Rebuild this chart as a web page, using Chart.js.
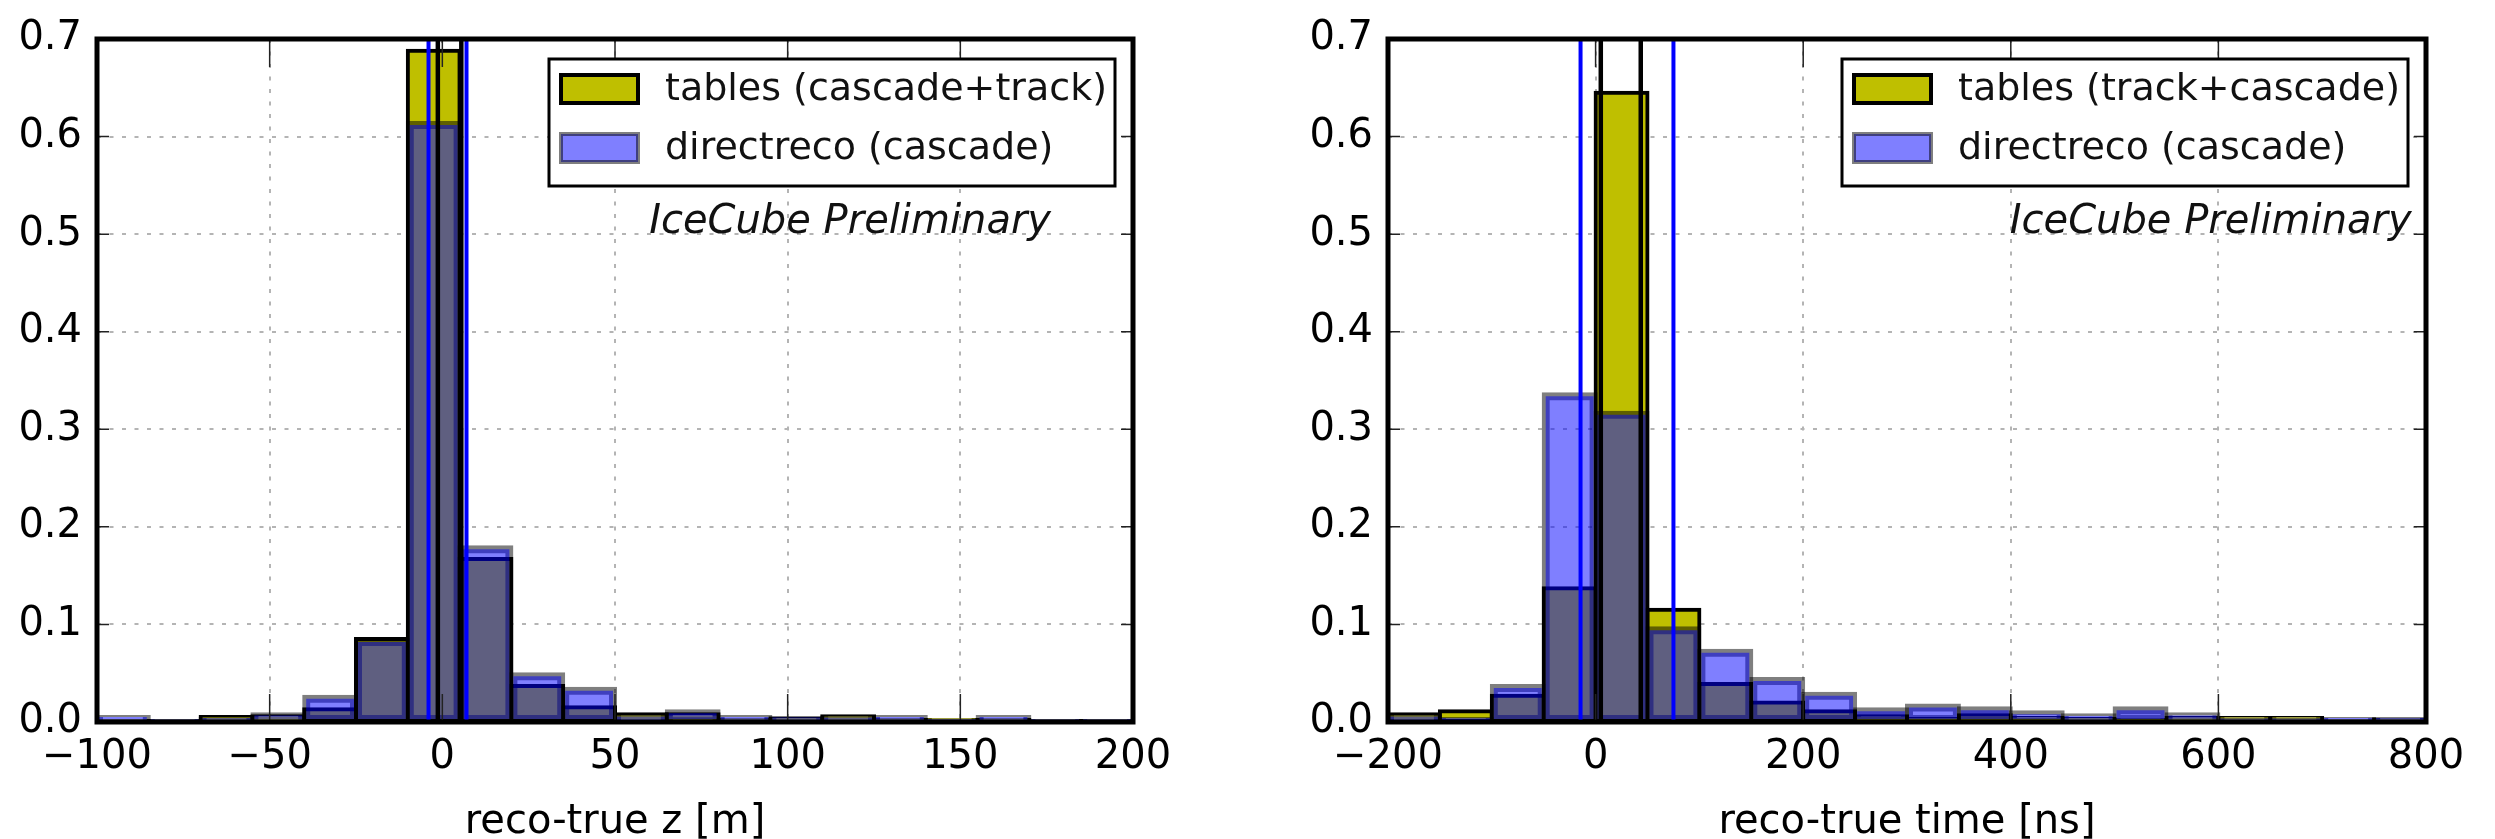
<!DOCTYPE html>
<html>
<head>
<meta charset="utf-8">
<script src="https://cdn.jsdelivr.net/npm/chart.js@4.4.1/dist/chart.umd.min.js"></script>
<style>
  html, body { margin: 0; padding: 0; background: #fff; }
  #wrap { position: relative; width: 2495px; height: 839px; overflow: hidden; }
  canvas { position: absolute; top: 0; }
</style>
</head>
<body>
<div id="wrap">
  <canvas id="zChart" width="1250" height="839" style="left:0px"></canvas>
  <canvas id="tChart" width="1245" height="839" style="left:1250px"></canvas>
</div>
<script>
// ---- reco-true z [m]: 20 bins of 15 m between -100 and 200 ----
const zBinEdges = [-100, -85, -70, -55, -40, -25, -10, 5, 20, 35, 50, 65, 80, 95, 110, 125, 140, 155, 170, 185, 200];
const zTables   = [0.001, 0.001, 0.005, 0.006, 0.013, 0.085, 0.688, 0.167, 0.037, 0.015, 0.008, 0.008, 0.002, 0.003, 0.006, 0.002, 0.002, 0.002, 0.001, 0.001];
const zDirect   = [0.005, 0.001, 0.003, 0.008, 0.026, 0.084, 0.614, 0.179, 0.049, 0.034, 0.006, 0.011, 0.005, 0.004, 0.004, 0.005, 0.001, 0.005, 0.001, 0.001];
const zTablesLines = [-1.3, 5.5];   // tables interval markers
const zDirectLines = [-4.0, 7.0];   // directreco interval markers
const zTicks = [-100, -50, 0, 50, 100, 150, 200];

// ---- reco-true time [ns]: 20 bins of 50 ns between -200 and 800 ----
const tBinEdges = [-200, -150, -100, -50, 0, 50, 100, 150, 200, 250, 300, 350, 400, 450, 500, 550, 600, 650, 700, 750, 800];
const tTables   = [0.008, 0.011, 0.027, 0.137, 0.645, 0.115, 0.039, 0.020, 0.011, 0.006, 0.003, 0.007, 0.004, 0.003, 0.002, 0.004, 0.004, 0.004, 0.001, 0.002];
const tDirect   = [0.006, 0.003, 0.037, 0.336, 0.317, 0.096, 0.073, 0.044, 0.029, 0.013, 0.017, 0.014, 0.010, 0.007, 0.014, 0.008, 0.002, 0.002, 0.003, 0.003];
const tTablesLines = [5.0, 43.5];
const tDirectLines = [-14.5, 75.0];
const tTicks = [-200, 0, 200, 400, 600, 800];

const yTicks = [0.0, 0.1, 0.2, 0.3, 0.4, 0.5, 0.6, 0.7];

const LABEL_DIRECT = 'directreco (cascade)';
const FONT = "'DejaVu Sans', 'Bitstream Vera Sans', sans-serif";

const YELLOW = 'rgb(191,191,0)';
const BLUE_A = 'rgba(0,0,255,0.5)';
const EDGE_A = 'rgba(0,0,0,0.5)';

function toPoints(edges, values) {
  return values.map((v, i) => ({ x: (edges[i] + edges[i + 1]) / 2, y: v }));
}

// Frame, inward ticks, marker lines, legend box and caption
const decorations = {
  id: 'decor',
  afterDatasetsDraw(chart, args, o) {
    const { ctx, chartArea: a, scales: { x, y } } = chart;
    const w = a.right - a.left, h = a.bottom - a.top;

    // marker lines
    ctx.save();
    ctx.beginPath(); ctx.rect(a.left, a.top, w, h); ctx.clip();
    o.lines.forEach(set => {
      ctx.strokeStyle = set.color; ctx.lineWidth = set.width;
      set.values.forEach(v => {
        const px = x.getPixelForValue(v);
        ctx.beginPath(); ctx.moveTo(px, a.top); ctx.lineTo(px, a.bottom); ctx.stroke();
      });
    });
    ctx.restore();

    // inward tick marks on all four sides
    ctx.save();
    ctx.strokeStyle = '#222'; ctx.lineWidth = 1.5;
    x.ticks.forEach(t => {
      const px = x.getPixelForValue(t.value);
      ctx.beginPath();
      ctx.moveTo(px, a.bottom); ctx.lineTo(px, a.bottom - 28);
      ctx.moveTo(px, a.top); ctx.lineTo(px, a.top + 28);
      ctx.stroke();
    });
    y.ticks.forEach(t => {
      const py = y.getPixelForValue(t.value);
      ctx.beginPath();
      ctx.moveTo(a.left, py); ctx.lineTo(a.left + 12, py);
      ctx.moveTo(a.right, py); ctx.lineTo(a.right - 12, py);
      ctx.stroke();
    });
    ctx.restore();

    // axes frame
    ctx.save();
    ctx.strokeStyle = '#000'; ctx.lineWidth = 5;
    ctx.strokeRect(a.left, a.top, w, h);
    ctx.restore();

    // legend box
    const bw = 566, bh = 127;
    const bx = a.right - 18 - bw, by = a.top + 20;
    ctx.save();
    ctx.fillStyle = '#fff'; ctx.fillRect(bx, by, bw, bh);
    ctx.strokeStyle = '#000'; ctx.lineWidth = 3; ctx.strokeRect(bx, by, bw, bh);
    const ds = chart.data.datasets;
    const rows = [ds[1], ds[0]];
    rows.forEach((d, i) => {
      const cy = by + 30 + i * 59;
      ctx.fillStyle = '#fff';
      ctx.fillRect(bx + 12, cy - 14, 77, 28);
      ctx.fillStyle = d.backgroundColor;
      ctx.fillRect(bx + 12, cy - 14, 77, 28);
      ctx.strokeStyle = d.borderColor; ctx.lineWidth = 4;
      ctx.strokeRect(bx + 12, cy - 14, 77, 28);
      ctx.fillStyle = '#111';
      ctx.font = '38px ' + FONT;
      ctx.textAlign = 'left'; ctx.textBaseline = 'middle';
      ctx.fillText(d.label, bx + 116, cy + 1);
    });
    ctx.restore();

    // caption
    ctx.save();
    ctx.fillStyle = '#111';
    ctx.font = 'italic 40px ' + FONT;
    ctx.textAlign = 'left'; ctx.textBaseline = 'middle';
    ctx.fillText(o.caption, a.left + o.captionX * w, a.top + o.captionY * h);
    ctx.restore();
  }
};

function makeChart(id, cfg) {
  const minus = v => String(v).replace('-', '\u2212');
  return new Chart(document.getElementById(id), {
    type: 'bar',
    data: {
      datasets: [
        {
          label: LABEL_DIRECT,
          data: toPoints(cfg.edges, cfg.direct),
          backgroundColor: BLUE_A,
          borderColor: EDGE_A,
          borderWidth: 4,
          inflateAmount: 2,
          borderSkipped: false,
          order: 0
        },
        {
          label: cfg.tablesLabel,
          data: toPoints(cfg.edges, cfg.tables),
          backgroundColor: YELLOW,
          borderColor: '#000',
          borderWidth: 4,
          inflateAmount: 2,
          borderSkipped: false,
          order: 1
        }
      ]
    },
    options: {
      responsive: false,
      animation: false,
      events: [],
      grouped: false,
      barPercentage: 1,
      categoryPercentage: 1,
      layout: { padding: { top: 32, right: cfg.padRight, bottom: 0, left: 0 } },
      scales: {
        x: {
          type: 'linear',
          min: cfg.edges[0],
          max: cfg.edges[cfg.edges.length - 1],
          offset: false,
          afterBuildTicks: s => { s.ticks = cfg.ticks.map(v => ({ value: v })); },
          afterFit: s => { s.height = 117; },
          grid: { offset: false, color: '#b4b4b4', lineWidth: 2, drawTicks: false },
          border: { display: false, dash: [4, 8.5] },
          ticks: {
            autoSkip: false, maxRotation: 0, padding: 12,
            color: '#000', font: { family: FONT, size: 40 },
            callback: v => minus(v)
          },
          title: {
            display: true, text: cfg.xTitle, color: '#000',
            font: { family: FONT, size: 40, lineHeight: 1 },
            padding: { top: 0, bottom: -4 }
          }
        },
        y: {
          min: 0, max: 0.7,
          afterBuildTicks: s => { s.ticks = yTicks.map(v => ({ value: v })); },
          afterFit: s => { s.width = cfg.yWidth; },
          grid: { color: '#b4b4b4', lineWidth: 2, drawTicks: false },
          border: { display: false, dash: [4, 8.5] },
          ticks: {
            padding: 15, color: '#000', font: { family: FONT, size: 40 },
            callback: v => Number(v).toFixed(1)
          }
        }
      },
      plugins: {
        legend: { display: false },
        tooltip: { enabled: false },
        decor: {
          lines: [
            { values: cfg.tablesLines, color: '#000', width: 4.5 },
            { values: cfg.directLines, color: '#0000ff', width: 4 }
          ],
          caption: 'IceCube Preliminary',
          captionX: cfg.captionX,
          captionY: 0.269
        }
      }
    },
    plugins: [decorations]
  });
}

makeChart('zChart', {
  edges: zBinEdges, tables: zTables, direct: zDirect,
  tablesLines: zTablesLines, directLines: zDirectLines,
  ticks: zTicks, tablesLabel: 'tables (cascade+track)',
  xTitle: 'reco-true z [m]', yWidth: 97, padRight: 117, captionX: 0.533
});

makeChart('tChart', {
  edges: tBinEdges, tables: tTables, direct: tDirect,
  tablesLines: tTablesLines, directLines: tDirectLines,
  ticks: tTicks, tablesLabel: 'tables (track+cascade)',
  xTitle: 'reco-true time [ns]', yWidth: 138, padRight: 69, captionX: 0.599
});
</script>
</body>
</html>
